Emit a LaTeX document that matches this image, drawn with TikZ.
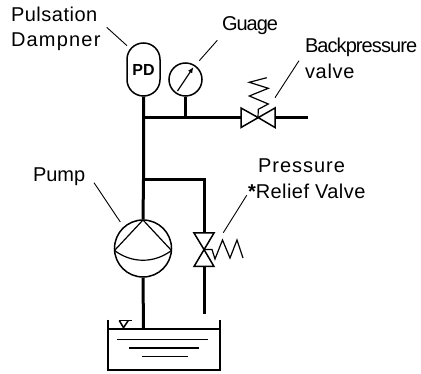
\documentclass[tikz,border=0pt]{standalone}
\usepackage{fontspec}
\setmainfont{Liberation Sans}
\usetikzlibrary{arrows.meta}
\tikzset{
  x=1pt,y=-1pt,
  pipe/.style={line width=3pt,black},
  thin line/.style={line width=1.2pt,black},
  leader/.style={line width=0.9pt,black},
  sym/.style={line width=1.5pt,black,line join=miter},
  tankline/.style={line width=1.9pt,black},
  cap label/.style={anchor=base west,inner sep=0pt,outer sep=0pt,font=\fontsize{20}{20}\selectfont},
  disc/.style={draw,sym,circle,inner sep=0pt},
}
\begin{document}
\begin{tikzpicture}
\useasboundingbox (0,0) rectangle (421,374);
% equipment nodes
\node[draw,sym,rounded corners=16.4pt,minimum width=33pt,minimum height=53pt,inner sep=0pt] (pd) at (143.5,69.5) {\fontsize{16}{16}\selectfont\bfseries PD};
\node[disc,minimum size=33pt] (gauge) at (185.5,79.5) {};
\node[disc,minimum size=57pt] (pump) at (143,248.5) {};
\coordinate (bv) at (258,117.5);
\coordinate (rv) at (204,249.5);
\coordinate (teeA) at (143.5,117.5);
\coordinate (teeB) at (143.5,179.5);
\coordinate (teeG) at (185.5,117.5);
\coordinate (bvL) at (241,117.5);
\coordinate (bvR) at (275,117.5);
\coordinate (pipeEnd) at (308,117.5);
\coordinate (branchC) at (204,179.5);
\coordinate (rvT) at (204,233);
\coordinate (rvB) at (204,266.5);
\coordinate (relEnd) at (204,314);
\coordinate (water) at (143.5,329);
% pipes
\draw[pipe] (pd.south) -- (teeA) -- (teeB) -- (pump.north);
\draw[pipe] (pump.south) -- (water);
\draw[pipe] (gauge.south) -- (teeG);
\draw[pipe] (teeA) -- (bvL);
\draw[pipe] (bvR) -- (pipeEnd);
\draw[pipe,line join=miter] (teeB) -- (branchC) -- (rvT);
\draw[pipe] (rvB) -- (relEnd);
% gauge needle
\draw[thin line,-{Latex[length=6pt,width=5pt]}] (177.5,91) -- (193.5,67);
% pump interior
\draw[thin line,line join=round] (114.5,250.5) -- (143,220) -- (171.5,250.5);
\draw[thin line] (114.5,250.5) .. controls (132,263.5) and (154,263.5) .. (171.5,250.5);
% backpressure valve
\draw[sym] (bv) -- (241,108) -- (241,127.5) -- (275,108) -- (275,127.5) -- cycle;
\draw[thin line] (bv) -- (258.3,109.3) -- (268.3,104) -- (249.3,96) -- (268.3,88.3) -- (249.3,82.3) -- (266.7,77.7);
% relief valve
\draw[sym] (rv) -- (194,233) -- (214,233) -- (194,266.5) -- (214,266.5) -- cycle;
\draw[thin line] (rv) -- (212,249.5) -- (215,259) -- (222.5,240) -- (230,258) -- (237,240) -- (243,258);
% tank
\draw[tankline] (107.7,319.7) -- (107.7,369.7) -- (219.7,369.7) -- (219.7,319.7);
\draw[tankline] (107.7,329) -- (219.7,329);
\draw[thin line] (117,339.3) -- (207.7,339.3);
\draw[thin line] (129,348) -- (199.3,348);
\draw[thin line] (142,356.3) -- (188,356.3);
\draw[sym] (119.3,320.5) -- (131.7,320.5);
\draw[sym] (119.3,320.5) -- (123.5,327.7) -- (128.3,320.5);
% leaders
\coordinate (l1) at (106.7,27.3); \coordinate (l1b) at (127,45.7);
\coordinate (l2) at (217.3,40.3); \coordinate (l2b) at (199.3,60.7);
\coordinate (l3) at (299,60.7); \coordinate (l3b) at (275,97.7);
\coordinate (l4) at (246.7,195.3); \coordinate (l4b) at (223.3,232.7);
\coordinate (l5) at (94,182.7); \coordinate (l5b) at (120.3,222);
\draw[leader] (l1) -- (l1b);
\draw[leader] (l2) -- (l2b);
\draw[leader] (l3) -- (l3b);
\draw[leader] (l4) -- (l4b);
\draw[leader] (l5) -- (l5b);
% labels
\node[cap label] (t1) at (11,21.7) {\addfontfeature{LetterSpace=2.5}Pulsation};
\node[cap label] (t2) at (11,46.7) {\addfontfeature{LetterSpace=6}Dampner};
\node[cap label] (t3) at (222,30.7) {\addfontfeature{LetterSpace=-5}Guage};
\node[cap label] (t4) at (305,52.7) {\addfontfeature{LetterSpace=-4.6}Backpressure};
\node[cap label] (t5) at (305,78.3) {\addfontfeature{LetterSpace=3.5}valve};
\node[cap label] (t6) at (258,172.5) {\addfontfeature{LetterSpace=5}Pressure};
\node[cap label] (t7) at (248,198.5) {\textbf{*}\addfontfeature{LetterSpace=2.2}Relief Valve};
\node[cap label] (t8) at (33,181.7) {Pump};
\end{tikzpicture}
\end{document}
